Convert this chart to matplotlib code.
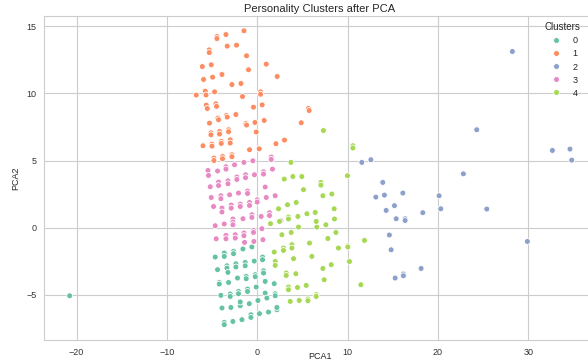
import numpy as np
import pandas as pd
import matplotlib
matplotlib.use("Agg")
import matplotlib.pyplot as plt
import seaborn as sns

# cluster 0 (teal)
c0_x = [-4.65, -3.65, -3.65, -2.62, -2.62, -1.58, -0.59, -4.39, -3.35, -3.35, -3.24,
        -2.36, -2.36, -1.33, -1.33, -0.33, 0.59, 0.59, 0.70, 0.70, -4.20, -4.20,
        -3.17, -2.18, -1.22, -1.22, -0.22, -0.22, 0.88, 1.88, -4.02, -2.99, -2.99,
        -2.07, -2.07, -1.07, -1.07, -0.11, 0.88, 1.99, 1.99, -3.90, -2.91, -1.88,
        -1.88, -0.88, 0.08, 1.07, 2.18, 2.18, -3.65, -3.65, -2.69, -1.69, -0.70,
        -0.70, 0.25, 1.25, -20.76]
c0_y = [-2.18, -1.88, -2.13, -1.76, -1.93, -1.58, -1.43, -3.12, -2.83, -3.00, -3.32,
        -2.68, -2.92, -2.58, -2.83, -2.48, -2.18, -2.38, -3.20, -3.37, -4.07, -4.19,
        -4.07, -3.74, -3.62, -3.79, -3.49, -3.64, -3.99, -4.16, -5.03, -4.93, -5.11,
        -4.74, -4.91, -4.56, -4.74, -4.41, -4.86, -4.91, -5.06, -5.97, -5.93, -5.80,
        -5.52, -5.65, -5.41, -5.23, -6.10, -5.93, -7.04, -7.21, -6.97, -6.84, -6.47,
        -6.67, -6.39, -6.27, -5.06]

# cluster 1 (orange)
c1_x = [-4.46, -4.46, -3.46, -1.47, -5.31, -5.31, -3.32, -2.29, -1.18, -6.08, -5.09,
        1.00, -0.96, -5.94, -4.94, -3.90, 2.21, -2.80, -1.80, -6.75, -5.75, -5.67,
        -4.72, -1.63, 0.37, 0.37, -5.64, -5.53, -4.57, -4.50, -0.41, 0.55, 5.67,
        5.75, -5.28, -4.35, -4.28, -3.40, -3.32, -2.36, -1.25, -1.18, -0.25, 0.77,
        4.87, -5.12, -5.12, -4.17, -4.17, -3.17, -3.17, -0.11, -6.00, -5.01, -5.01,
        -3.98, -3.98, -2.99, -2.99, -0.85, 0.22, 2.07, 3.02, -4.79, -4.79, -3.84,
        -3.84, -2.80, -2.80]
c1_y = [14.22, 14.07, 14.37, 14.65, 13.23, 13.03, 13.51, 13.58, 12.79, 11.99, 12.12,
        12.17, 11.75, 11.03, 11.20, 11.40, 11.25, 10.65, 10.73, 9.87, 10.16, 9.87,
        10.11, 9.76, 10.11, 9.93, 9.12, 8.87, 9.22, 9.03, 8.97, 9.14, 8.87,
        8.72, 7.78, 8.16, 8.03, 8.35, 8.23, 8.42, 7.75, 7.64, 7.83, 7.98,
        7.81, 7.06, 6.91, 7.16, 6.97, 7.29, 7.14, 7.12, 6.10, 6.22, 6.07,
        6.42, 6.27, 6.54, 6.30, 5.80, 5.87, 6.25, 6.52, 5.18, 5.00, 5.30,
        5.13, 5.43, 5.28]

# cluster 2 (blue)
c2_x = [28.24, 24.30, 32.67, 34.62, 34.81, 22.82, 11.58, 12.58, 13.90, 13.13, 14.08,
        16.12, 20.13, 20.32, 25.41, 15.19, 14.27, 18.33, 15.38, 16.37, 16.37, 14.63,
        29.90, 14.82, 18.14, 16.18, 16.18, 15.27]
c2_y = [13.11, 7.29, 5.75, 5.85, 5.03, 4.01, 4.86, 5.06, 3.37, 2.28, 2.43,
        2.58, 2.38, 1.41, 1.39, 1.64, 1.29, 1.12, 0.67, 0.67, 0.54, -0.54,
        -1.02, -1.64, -3.03, -3.44, -3.57, -3.74]

# cluster 3 (pink)
c3_x = [1.55, 1.55, -5.45, -5.39, -4.39, -3.46, -3.46, -2.51, -1.47, -0.48, 1.69,
        -5.20, -4.28, -4.28, -3.24, -3.24, -2.25, -2.25, -1.29, -1.29, -0.30, 0.70,
        0.70, 0.88, -5.09, -4.02, -4.02, -3.06, -2.07, -1.07, -1.07, 0.00, 0.00,
        1.00, 1.99, -4.83, -3.90, -3.90, -2.88, -2.88, -1.88, -1.88, -0.85, -0.85,
        0.44, 1.36, 1.36, -4.65, -3.65, -2.69, -2.69, -2.69, -1.58, -0.59, -0.59,
        2.62, -4.54, -3.46, -3.46, -2.43, -2.43, -1.47, -1.47, -0.41, -0.41, 0.52,
        -1.40, -0.37, 0.63]
c3_y = [5.26, 5.08, 4.26, 3.89, 4.22, 4.54, 4.36, 4.68, 4.86, 4.98, 4.36,
        3.05, 3.40, 3.14, 3.49, 3.27, 3.77, 3.59, 3.94, 3.72, 3.94, 4.16,
        3.99, 3.03, 2.25, 2.38, 2.16, 2.45, 2.58, 2.73, 2.55, 2.08, 1.91,
        2.25, 2.38, 1.58, 1.46, 1.17, 1.69, 1.46, 1.76, 1.58, 1.88, 1.66,
        0.84, 1.12, 0.91, 0.15, 0.28, 0.65, 0.42, 0.22, 0.67, 0.97, 0.77,
        0.52, -0.82, -0.57, -0.82, -0.52, -0.77, -0.39, -0.59, -0.20, -0.35, -0.07,
        -1.09, -1.02, -0.89]

# cluster 4 (green)
c4_x = [7.33, 10.59, 10.59, 3.73, 9.99, 2.99, 3.95, 4.94, 7.05, 7.05, 5.12,
        7.27, 8.26, 2.36, 3.35, 4.31, 3.46, 3.46, 2.47, 4.50, 5.50, 6.42,
        8.52, 1.47, 4.57, 6.60, 6.53, 7.60, 8.55, 3.76, 2.73, 8.71, 7.82,
        11.87, 5.79, 3.84, 3.84, 2.91, 2.91, 1.88, 8.99, 10.03, 10.03, 6.05,
        4.02, 10.21, 1.99, 1.99, 8.19, 7.27, 3.21, 3.21, 4.28, 7.41, 11.47,
        3.46, 3.46, 4.46, 5.42, 6.53, 6.53, 5.61, 5.61, 4.65, 3.65]
c4_y = [7.23, 6.10, 5.93, 4.86, 3.87, 3.62, 3.81, 3.81, 3.37, 3.17, 2.83,
        2.38, 2.51, 1.41, 1.71, 1.88, 0.80, 0.65, 0.47, 0.84, 1.04, 1.14,
        1.41, 0.30, 0.05, 0.05, 0.47, 0.22, 0.65, -0.35, -0.52, -0.35, -0.80,
        -0.94, -1.14, -1.26, -1.51, -1.51, -1.69, -1.81, -1.51, -1.34, -1.43, -2.13,
        -2.30, -2.51, -2.51, -2.80, -2.75, -3.03, -3.37, -3.55, -3.42, -3.87, -4.24,
        -4.41, -4.61, -4.44, -4.29, -4.98, -5.11, -5.30, -5.43, -5.41, -5.48]

xs = [c0_x, c1_x, c2_x, c3_x, c4_x]
ys = [c0_y, c1_y, c2_y, c3_y, c4_y]

df = pd.DataFrame({
    "PCA1": np.concatenate(xs),
    "PCA2": np.concatenate(ys),
    "Cluster": np.concatenate([[k] * len(x) for k, x in enumerate(xs)]),
})

sns.set_style("whitegrid")
plt.rcParams["font.family"] = ["Liberation Sans", "DejaVu Sans"]

fig = plt.figure(figsize=(5.88, 3.62), dpi=100)
ax = fig.add_axes([44 / 588, 1 - 340 / 362, (596 - 44) / 588, (340 - 16) / 362])

sns.scatterplot(data=df, x="PCA1", y="PCA2", hue="Cluster", palette="Set2",
                s=18, edgecolor="white", linewidth=0.6, ax=ax)

ax.set_xlim(-23.6, 37.5)
ax.set_ylim(-8.35, 15.75)
ax.set_xticks([-20, -10, 0, 10, 20, 30])
ax.set_yticks([-5, 0, 5, 10, 15])
ax.tick_params(labelsize=6.5, colors="#333333", pad=2)
ax.set_xlabel("PCA1", fontsize=6.5)
ax.xaxis.set_label_coords(0.5, -0.036)
ax.set_ylabel("PCA2", fontsize=6.5, labelpad=4)
ax.set_title("Personality Clusters after PCA", fontsize=8, pad=3)

leg = ax.legend(title="Clusters", loc="upper left", bbox_to_anchor=(538 / 588, 1 - 16 / 362),
                bbox_transform=fig.transFigure, frameon=False, fontsize=6.5,
                title_fontsize=7, handletextpad=0.8, labelspacing=0.45, borderpad=0.2)

fig.savefig("out.png", dpi=100)
